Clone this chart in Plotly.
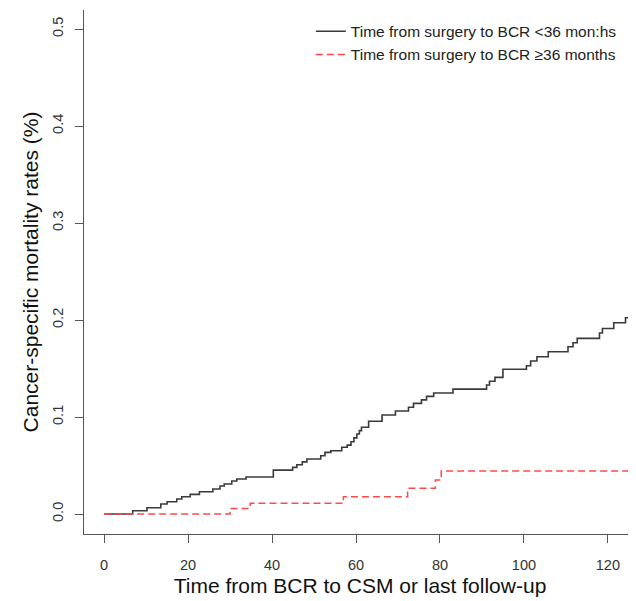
import plotly.graph_objects as go

# Group 1: time from surgery to BCR < 36 months (step curve)
t_short = [0, 6.8, 10.2, 13.5, 15.0, 17.3, 18.5, 20.5, 22.7, 25.9, 27.6, 28.6, 30.4, 31.6,
           33.8, 40.3, 44.9, 45.9, 47.2, 48.3, 51.6, 52.6, 54.0, 56.6, 57.9, 58.8, 59.5,
           60.2, 60.8, 61.3, 63.0, 66.2, 69.4, 72.5, 73.7, 75.6, 76.8, 78.5, 83.1, 91.1,
           91.8, 93.1, 95.0, 100.6, 101.6, 103.1, 105.8, 110.5, 111.7, 112.7, 118.0,
           118.7, 121.4, 124.2, 125.8]
cm_short = [0.0, 0.0034, 0.0065, 0.0103, 0.0127, 0.0155, 0.0178, 0.0203, 0.0230, 0.0258,
            0.0289, 0.0309, 0.0340, 0.0361, 0.0381, 0.0452, 0.0481, 0.0508, 0.0538, 0.0567,
            0.0601, 0.0636, 0.0653, 0.0688, 0.0710, 0.0745, 0.0785, 0.0825, 0.0860, 0.0895,
            0.0957, 0.1021, 0.1062, 0.1100, 0.1141, 0.1177, 0.1213, 0.1247, 0.1288, 0.1330,
            0.1368, 0.1409, 0.1492, 0.1529, 0.1577, 0.1622, 0.1673, 0.1725, 0.1766, 0.1811,
            0.1866, 0.1913, 0.1972, 0.2023, 0.2023]

# Group 2: time from surgery to BCR >= 36 months (step curve)
t_long = [0, 30.0, 34.8, 57.0, 72.3, 78.9, 80.3, 125.8]
cm_long = [0.0, 0.0058, 0.0110, 0.0178, 0.0265, 0.0350, 0.0443, 0.0443]

x_ticks = [0, 20, 40, 60, 80, 100, 120]
y_ticks = [0.0, 0.1, 0.2, 0.3, 0.4, 0.5]
y_tick_labels = ["0.0", "0.1", "0.2", "0.3", "0.4", "0.5"]

FONT = "Liberation Sans, Arial, Helvetica, sans-serif"

fig = go.Figure()
fig.add_trace(go.Scatter(
    x=t_short, y=cm_short, mode="lines", line_shape="hv",
    line=dict(color="#3a3a3a", width=1.6), legendgroup="a",
    name="Time from surgery to BCR <36 mon:hs"))
fig.add_trace(go.Scatter(
    x=t_long, y=cm_long, mode="lines", line_shape="hv",
    line=dict(color="#ff4a4a", width=1.5, dash="7px,4px"), legendgroup="b",
    name="Time from surgery to BCR \u226536 months"))

fig.update_layout(
    width=628, height=593,
    margin=dict(l=76, r=0, t=2, b=67),
    paper_bgcolor="white", plot_bgcolor="white",
    font=dict(family=FONT, color="#222"),
    showlegend=True,
    legend=dict(x=0.411, y=0.991, xanchor="left", yanchor="top",
                bgcolor="rgba(0,0,0,0)", font=dict(size=15.5, color="#222"),
                itemwidth=30, tracegroupgap=0),
    xaxis=dict(range=[-4.8, 126.7], tickvals=x_ticks, showgrid=False, zeroline=False,
               showline=True, linecolor="#555", linewidth=1.2, automargin=False,
               ticks="outside", ticklen=8, tickcolor="#555", tickwidth=1.2,
               ticklabelstandoff=9,
               tickfont=dict(size=14.5, color="#333"),
               title=dict(text="Time from BCR to CSM or last follow-up",
                          font=dict(size=21, color="#111"), standoff=6)),
    yaxis=dict(range=[-0.0206, 0.5196], tickvals=y_ticks, ticktext=y_tick_labels,
               showgrid=False, zeroline=False, automargin=False,
               showline=True, linecolor="#555", linewidth=1.2,
               ticks="outside", ticklen=8, tickcolor="#555", tickwidth=1.2,
               ticklabelstandoff=6,
               tickangle=-90, tickfont=dict(size=14.5, color="#333"),
               title=dict(text="Cancer-specific mortality rates (%)",
                          font=dict(size=21, color="#111"), standoff=5)),
)

fig.write_html("out.html")
